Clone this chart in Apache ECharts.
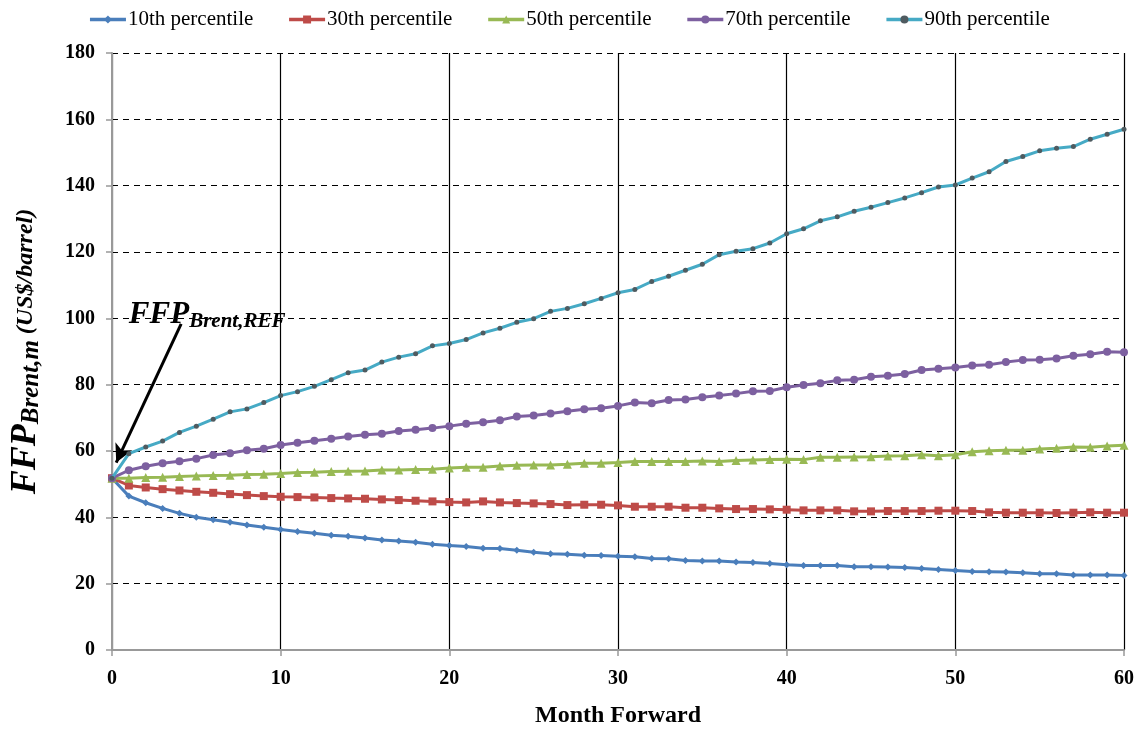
<!DOCTYPE html>
<html><head><meta charset="utf-8">
<script src="https://cdn.jsdelivr.net/npm/echarts@6/dist/echarts.min.js"></script>
<style>html,body{margin:0;padding:0;background:#fff}#c{width:1138px;height:733px}</style>
</head><body><div id="c"></div>
<script>
var months = [];
for (var i = 0; i <= 60; i++) months.push(i);
var seriesNames = ['10th percentile','30th percentile','50th percentile','70th percentile','90th percentile'];
var p10 = [51.8,46.4,44.4,42.7,41.2,40.0,39.3,38.5,37.7,37.0,36.3,35.7,35.2,34.6,34.3,33.8,33.2,32.9,32.5,31.9,31.5,
  31.2,30.7,30.6,30.1,29.5,29.0,28.9,28.6,28.5,28.3,28.1,27.6,27.5,27.0,26.8,26.8,26.5,26.4,26.1,
  25.7,25.5,25.5,25.5,25.1,25.1,25.0,24.9,24.6,24.3,24.0,23.7,23.6,23.5,23.3,23.0,23.0,22.6,22.6,22.6,22.5];
var p30 = [51.8,49.6,49.0,48.5,48.1,47.7,47.4,47.0,46.7,46.4,46.2,46.1,46.0,45.8,45.7,45.6,45.4,45.2,45.0,44.8,44.6,
  44.5,44.8,44.5,44.3,44.2,44.0,43.7,43.8,43.8,43.6,43.2,43.2,43.2,42.9,42.9,42.7,42.5,42.5,42.4,
  42.3,42.1,42.1,42.1,41.8,41.8,41.9,41.9,41.9,42.0,42.0,41.9,41.5,41.4,41.4,41.4,41.3,41.4,41.5,41.4,41.4];
var p50 = [51.8,51.8,52.0,52.1,52.3,52.5,52.6,52.7,52.9,53.0,53.2,53.5,53.6,53.8,53.9,54.0,54.3,54.3,54.4,54.5,54.9,
  55.1,55.1,55.5,55.7,55.8,55.8,56.0,56.3,56.3,56.5,56.8,56.8,56.8,56.8,57.0,56.8,57.1,57.3,57.4,
  57.5,57.4,58.1,58.1,58.2,58.3,58.5,58.6,58.9,58.6,58.9,59.8,60.1,60.2,60.2,60.6,60.8,61.2,61.1,61.5,61.7];
var p70 = [51.8,54.2,55.4,56.3,56.9,57.7,58.8,59.3,60.2,60.7,61.8,62.5,63.1,63.7,64.4,64.9,65.2,66.0,66.4,66.9,67.5,
  68.2,68.7,69.3,70.4,70.7,71.3,72.0,72.6,72.9,73.6,74.6,74.4,75.4,75.5,76.2,76.7,77.3,78.0,78.1,
  79.2,79.9,80.4,81.3,81.5,82.4,82.7,83.2,84.4,84.8,85.2,85.8,86.0,86.8,87.4,87.5,87.9,88.7,89.2,89.9,89.8];
var p90 = [51.8,59.2,61.2,63.0,65.6,67.5,69.6,71.8,72.7,74.6,76.7,77.9,79.5,81.5,83.6,84.4,86.8,88.3,89.3,91.7,92.4,
  93.6,95.6,97.0,98.8,99.9,102.1,103.0,104.4,106.0,107.7,108.7,111.1,112.7,114.5,116.3,119.2,120.2,121.0,122.7,
  125.5,127.0,129.4,130.6,132.3,133.5,134.9,136.3,137.9,139.6,140.2,142.3,144.2,147.3,148.8,150.5,151.3,151.8,154.0,155.5,157.0];
var xTicks = [0,10,20,30,40,50,60];
var yTicks = [0,20,40,60,80,100,120,140,160,180];
var annotArrow = [[4.1, 98.3], [0.25, 56.5]];
var annotLabelAt = [1.0, 101];

var colors = ['#4A7EBB','#BE4B48','#98B954','#7D60A0','#46AAC5'];
var markerColors = ['#4A7EBB','#BE4B48','#98B954','#7D60A0','#4f5b60'];
var symbols = ['diamond','rect','triangle','circle','circle'];
var sizes = [7,8,9,8,5];
var dataSets = [p10,p30,p50,p70,p90];
var FONT = '"Liberation Serif","Times New Roman",serif';

function pairs(arr){ return arr.map(function(v,i){ return [months[i], v]; }); }

var series = dataSets.map(function(d, k){
  return {
    name: seriesNames[k], type: 'line', data: pairs(d),
    symbol: symbols[k], symbolSize: sizes[k], showSymbol: true,
    lineStyle: {color: colors[k], width: 3},
    itemStyle: {color: markerColors[k], borderWidth: 0},
    z: 3 + k, animation: false
  };
});
series[0].markLine = {
  silent: true, symbol: ['none','arrow'], symbolSize: [14, 18], animation: false,
  label: {show: false},
  lineStyle: {color: '#000', width: 3, type: 'solid'},
  data: [[{coord: annotArrow[0]}, {coord: annotArrow[1]}]]
};

var chart = echarts.init(document.getElementById('c'));
chart.setOption({
  animation: false,
  color: colors,
  legend: {
    top: 4, left: 'center', itemWidth: 36, itemHeight: 10, itemGap: 34,
    lineStyle: {width: 3.5},
    textStyle: {fontFamily: FONT, fontSize: 21, color: '#000', padding: [0,0,0,-3]},
    data: seriesNames
  },
  grid: {left: 109, right: 14, top: 53, bottom: 81, containLabel: false},
  xAxis: {
    type: 'value', min: 0, max: 60, interval: 10,
    name: 'Month Forward', nameLocation: 'middle', nameGap: 54,
    nameTextStyle: {fontFamily: FONT, fontSize: 24, fontWeight: 'bold', color: '#000'},
    axisLine: {lineStyle: {color: '#999', width: 2}},
    axisTick: {show: true, length: 6, lineStyle: {color: '#999', width: 1.5}},
    axisLabel: {fontFamily: FONT, fontSize: 20, fontWeight: 'bold', color: '#000', margin: 19},
    splitLine: {show: true, lineStyle: {color: '#000', width: 1.2, type: 'solid'}}
  },
  yAxis: {
    type: 'value', min: 0, max: 180, interval: 20,
    name: '{big|FFP}{sub|Brent,m}{unit| (US$/barrel)}', nameLocation: 'middle', nameGap: 68, nameRotate: 90,
    nameTextStyle: {
      fontFamily: FONT, color: '#000',
      rich: {
        big: {fontFamily: FONT, fontSize: 36, fontWeight: 'bold', fontStyle: 'italic', color: '#000', verticalAlign: 'bottom'},
        sub: {fontFamily: FONT, fontSize: 25, fontWeight: 'bold', fontStyle: 'italic', color: '#000', padding: [16,0,0,0], verticalAlign: 'bottom'},
        unit: {fontFamily: FONT, fontSize: 24, fontWeight: 'bold', fontStyle: 'italic', color: '#000', verticalAlign: 'bottom', padding: [0,0,6,0]}
      }
    },
    axisLine: {show: true, lineStyle: {color: '#999', width: 2}},
    axisTick: {show: true, length: 6, lineStyle: {color: '#999', width: 1.5}},
    axisLabel: {fontFamily: FONT, fontSize: 20, fontWeight: 'bold', color: '#000', margin: 17},
    splitLine: {show: true, lineStyle: {color: '#000', width: 1.2, type: [6, 5]}}
  },
  series: series
});

var lp = chart.convertToPixel({gridIndex: 0}, annotLabelAt);
chart.setOption({
  graphic: [{
    type: 'text', x: lp[0], y: lp[1], z: 100,
    style: {
      text: '{big|FFP}{sub|Brent,REF}',
      rich: {
        big: {fontFamily: FONT, fontSize: 31, fontWeight: 'bold', fontStyle: 'italic', fill: '#000'},
        sub: {fontFamily: FONT, fontSize: 21, fontWeight: 'bold', fontStyle: 'italic', fill: '#000', padding: [14,0,0,0]}
      },
      verticalAlign: 'middle'
    }
  }]
});
</script></body></html>
